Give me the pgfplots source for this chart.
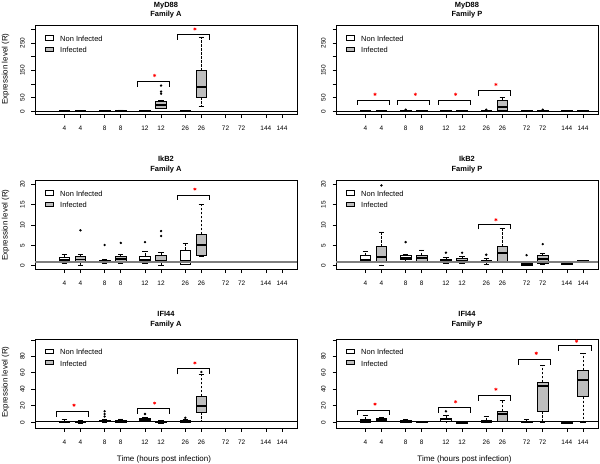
\documentclass[border=0pt]{standalone}
\usepackage{pgfplots}
\pgfplotsset{compat=1.18}
\usepgfplotslibrary{statistics}
\usepackage{fontspec}
\setmainfont{Liberation Sans}
\definecolor{rgray}{RGB}{190,190,190}
\definecolor{rline}{RGB}{127,127,127}
\pgfplotsset{
 panel/.style={scale only axis, width=262bp, height=89bp, anchor=north west,
   xmin=-0.82, xmax=15.43,
   xtick={1,2,3.5,4.5,6,7,8.5,9.5,11,12,13.5,14.5},
   xticklabels={4,4,8,8,12,12,26,26,72,72,144,144},
   xtick pos=bottom, ytick pos=left, tick align=outside,
   major tick length=3.5bp, tick style={black, line width=0.6bp},
   axis line style={line width=0.9bp},
   xticklabel style={font=\fontsize{6.5}{7}\selectfont, inner sep=0pt, anchor=north},
   yticklabel style={font=\fontsize{6.5}{7}\selectfont, inner sep=0pt, rotate=90, anchor=south},
   xticklabel shift=8bp, yticklabel shift=6.5bp,
   legend style={draw=none, fill=none, at={(rel axis cs:0,1)}, anchor=north west,
     xshift=10bp, yshift=-8bp, font=\fontsize{7.5}{8}\selectfont, row sep=0.5bp, inner sep=0pt},
   legend cell align=left,
   legend image code/.code={\draw[##1, line width=0.7bp] (0bp,-0.8bp) rectangle (8bp,3.8bp); \path (12.5bp,0bp);},
 },
 bxs/.style={forget plot, solid, draw=black, line width=0.7bp, mark=*, mark size=0.8bp,
   mark options={solid, fill=black, draw=black},
   boxplot/draw direction=y,
   boxplot/box extend=0.66, boxplot/whisker extend=0.33,
   boxplot/every whisker/.style={dash pattern=on 2.5bp off 1.5bp},
   boxplot/draw/whisker/.code 2 args={\draw[dash pattern=on 2.5bp off 1.5bp] (boxplot cs:##1) -- (boxplot cs:##2); \draw[solid] (boxplot whisker cs:##2,0) -- (boxplot whisker cs:##2,1);},
   boxplot/every median/.style={line width=1.8bp, solid}},
 nib/.style={bxs, fill=white},
 ib/.style={bxs, fill=rgray},
 brk/.style={forget plot, black, line width=0.7bp},
 star/.style={forget plot, only marks, mark=asterisk, mark size=1.6bp, red, mark options={line width=0.6bp}},
}
\newcommand{\bx}[8]{\addplot[#1, boxplot prepared={draw position=#2, lower whisker=#3, lower quartile=#4, median=#5, upper quartile=#6, upper whisker=#7}] coordinates {#8};}
\newcommand{\legs}{\addlegendimage{draw=black, fill=white}\addlegendentry{Non Infected}
\addlegendimage{draw=black, fill=rgray}\addlegendentry{Infected}}
\begin{document}
\begin{tikzpicture}
\path[use as bounding box] (0bp,0bp) rectangle (600bp,-464bp);
% titles
\tikzset{ttl/.style={font=\bfseries\fontsize{7.5}{9.5}\selectfont, align=center}}
\node[ttl] at (166bp,-10bp) {MyD88\\Family A};
\node[ttl] at (467bp,-10bp) {MyD88\\Family P};
\node[ttl] at (166bp,-164.5bp) {IkB2\\Family A};
\node[ttl] at (467bp,-164.5bp) {IkB2\\Family P};
\node[ttl] at (166bp,-319.5bp) {IFI44\\Family A};
\node[ttl] at (467bp,-319.5bp) {IFI44\\Family P};
\node[rotate=90, font=\fontsize{8}{9}\selectfont] at (5.5bp,-69bp) {Expression level (R)};
\node[rotate=90, font=\fontsize{8}{9}\selectfont] at (5.5bp,-225bp) {Expression level (R)};
\node[rotate=90, font=\fontsize{8}{9}\selectfont] at (5.5bp,-382bp) {Expression level (R)};
\node[font=\fontsize{8}{9}\selectfont] at (164bp,-459bp) {Time (hours post infection)};
\node[font=\fontsize{8}{9}\selectfont] at (464.5bp,-459bp) {Time (hours post infection)};

% ---------- MyD88 A
\begin{axis}[panel, at={(35bp,-25.7bp)}, ymin=-12.5, ymax=313, ytick={0,50,...,300}, yticklabels={0,50,,150,,250,}]
\legs
\bx{nib}{1}{0.2}{0.6}{1}{2}{4}{}
\bx{ib}{2}{0.2}{0.5}{1}{1.8}{3.5}{}
\bx{nib}{3.5}{0.2}{0.6}{1}{1.8}{3}{}
\bx{ib}{4.5}{0.3}{0.7}{1.2}{2.2}{5}{}
\bx{nib}{6}{0.2}{0.6}{1}{2}{4}{}
\bx{ib}{7}{9}{11}{22}{36}{41}{(0,64) (0,72) (0,94)}
\bx{nib}{8.5}{0.2}{0.6}{1}{2}{4}{}
\bx{ib}{9.5}{17}{51}{90}{149}{272}{}
\addplot[forget plot, black, line width=1bp] coordinates {(-0.82,1) (15.43,1)};
\addplot[brk] coordinates {(5.5,90) (5.5,111) (7.5,111) (7.5,90)};
\addplot[brk] coordinates {(8,262) (8,280) (10,280) (10,262)};
\addplot[star] coordinates {(6.6,131) (9.1,301)};
\end{axis}

% ---------- MyD88 P
\begin{axis}[panel, at={(336bp,-25.7bp)}, ymin=-12.5, ymax=313, ytick={0,50,...,300}, yticklabels={0,50,,150,,250,}]
\legs
\bx{nib}{1}{0.2}{0.6}{1}{2}{4}{}
\bx{ib}{2}{0.2}{0.5}{1}{1.8}{3.5}{}
\bx{nib}{3.5}{0.2}{0.6}{1}{2}{4}{(0,6)}
\bx{ib}{4.5}{0.3}{0.7}{1.2}{2.2}{4}{}
\bx{nib}{6}{0.2}{0.6}{1}{2}{4}{}
\bx{ib}{7}{0.2}{0.6}{1}{2}{4}{}
\bx{nib}{8.5}{0.2}{0.6}{1}{2}{4}{(0,6)}
\bx{ib}{9.5}{0}{2}{15}{41}{50}{}
\bx{nib}{11}{0.2}{0.6}{1}{2}{4}{}
\bx{ib}{12}{0.2}{0.6}{1}{2}{4}{(0,6)}
\bx{nib}{13.5}{0.2}{0.6}{1}{2}{4}{}
\bx{ib}{14.5}{0.2}{0.6}{1}{2}{4}{}
\addplot[forget plot, black, line width=1bp] coordinates {(-0.82,1) (15.43,1)};
\addplot[brk] coordinates {(0.5,23) (0.5,41) (2.5,41) (2.5,23)};
\addplot[brk] coordinates {(3,23) (3,41) (5,41) (5,23)};
\addplot[brk] coordinates {(5.5,23) (5.5,41) (7.5,41) (7.5,23)};
\addplot[brk] coordinates {(8,56) (8,78) (10,78) (10,56)};
\addplot[star] coordinates {(1.6,62) (4.1,62) (6.6,62) (9.1,98)};
\end{axis}

% ---------- IkB2 A
\begin{axis}[panel, at={(35bp,-180.7bp)}, ymin=-0.97, ymax=20.87, ytick={0,5,...,20}, yticklabels={0,5,10,15,20}]
\legs
\bx{nib}{1}{0.6}{0.9}{1.4}{2.0}{2.9}{}
\bx{ib}{2}{0.2}{0.75}{1.55}{2.2}{2.8}{(0,8.7)}
\bx{nib}{3.5}{0.6}{0.85}{1.1}{1.4}{1.6}{(0,5.1)}
\bx{ib}{4.5}{0.6}{1.15}{1.7}{2.3}{2.8}{(0,5.6)}
\bx{nib}{6}{0.55}{0.8}{1.4}{2.4}{3.5}{(0,5.8)}
\bx{ib}{7}{0.1}{0.8}{1.3}{2.6}{3.25}{(0,7.3) (0,8.5)}
\bx{nib}{8.5}{0.25}{0.4}{1.15}{3.9}{5.6}{}
\bx{ib}{9.5}{2.2}{2.45}{5.0}{7.7}{15.1}{}
\addplot[forget plot, rline, line width=1.8bp] coordinates {(-0.82,1) (15.43,1)};
\addplot[brk] coordinates {(8,16.2) (8,17.2) (10,17.2) (10,16.2)};
\addplot[star] coordinates {(9.1,18.8)};
\end{axis}

% ---------- IkB2 P
\begin{axis}[panel, at={(336bp,-180.7bp)}, ymin=-0.97, ymax=20.87, ytick={0,5,...,20}, yticklabels={0,5,10,15,20}]
\legs
\bx{nib}{1}{1.0}{1.15}{1.5}{2.6}{3.5}{}
\bx{ib}{2}{0.1}{1.2}{2.2}{4.7}{8.3}{(0,19.7)}
\bx{nib}{3.5}{0.9}{1.45}{2.0}{2.6}{2.9}{(0,5.8)}
\bx{ib}{4.5}{1.0}{1.2}{2.0}{2.6}{3.9}{}
\bx{nib}{6}{0.6}{0.8}{1.15}{1.45}{2.0}{(0,3.2)}
\bx{ib}{7}{0.6}{0.8}{1.3}{1.8}{2.3}{(0,3.2)}
\bx{nib}{8.5}{0.4}{0.9}{1.15}{1.4}{1.9}{(0,2.7)}
\bx{ib}{9.5}{1.0}{1.05}{3.1}{4.7}{9.1}{}
\bx{nib}{11}{0}{0.17}{0.4}{0.8}{1.0}{(0,2.6)}
\bx{ib}{12}{0.35}{0.65}{1.6}{2.6}{3.0}{(0,5.3)}
\bx{nib}{13.5}{0.3}{0.35}{0.65}{0.95}{1.0}{}
\bx{ib}{14.5}{0.8}{0.85}{1.05}{1.3}{1.4}{}
\addplot[forget plot, rline, line width=1.8bp] coordinates {(-0.82,1) (15.43,1)};
\addplot[brk] coordinates {(8,8.9) (8,10.1) (10,10.1) (10,8.9)};
\addplot[star] coordinates {(9.1,11.3)};
\end{axis}

% ---------- IFI44 A
\begin{axis}[panel, at={(35bp,-339bp)}, ymin=-7, ymax=101, ytick={0,20,...,100}, yticklabels={0,20,40,60,80,}]
\legs
\bx{nib}{1}{-0.5}{0}{0.6}{1.6}{3.3}{}
\bx{ib}{2}{-0.8}{-0.5}{0}{1.2}{2.5}{}
\bx{nib}{3.5}{0}{0.5}{1.2}{2.2}{4}{(0,7) (0,10) (0,13.3)}
\bx{ib}{4.5}{-0.5}{0}{0.8}{1.8}{4}{}
\bx{nib}{6}{0.5}{1}{2.5}{4.2}{6.2}{(0,10)}
\bx{ib}{7}{-0.8}{-0.3}{0.5}{1.2}{2.5}{}
\bx{nib}{8.5}{-0.5}{0}{0.8}{1.8}{4}{(0,5.4)}
\bx{ib}{9.5}{1}{12.4}{19.9}{31.5}{58}{(0,61)}
\addplot[forget plot, black, line width=1bp] coordinates {(-0.82,1) (15.43,1)};
\addplot[brk] coordinates {(0.5,6.2) (0.5,13.3) (2.5,13.3) (2.5,6.2)};
\addplot[brk] coordinates {(5.5,10) (5.5,16.6) (7.5,16.6) (7.5,10)};
\addplot[brk] coordinates {(8,58) (8,65) (10,65) (10,58)};
\addplot[star] coordinates {(1.6,20.7) (6.6,23.2) (9.1,72)};
\end{axis}

% ---------- IFI44 P
\begin{axis}[panel, at={(336bp,-339bp)}, ymin=-7, ymax=101, ytick={0,20,...,100}, yticklabels={0,20,40,60,80,}]
\legs
\bx{nib}{1}{-0.5}{0}{1.2}{3}{8.3}{}
\bx{ib}{2}{0.8}{1.5}{3}{5}{6.2}{}
\bx{nib}{3.5}{-0.5}{0}{1}{2.5}{4}{}
\bx{ib}{4.5}{-0.5}{-0.2}{0.5}{1.2}{1.5}{}
\bx{nib}{6}{0.5}{0.8}{3.3}{5}{8.3}{(0,13.3)}
\bx{ib}{7}{-1.6}{-1.2}{-0.3}{0.6}{0.8}{}
\bx{nib}{8.5}{-0.5}{0}{1.2}{2.5}{7}{}
\bx{ib}{9.5}{0.8}{0.9}{10.4}{13.3}{26}{}
\bx{nib}{11}{-0.5}{0}{0.5}{1.2}{4}{}
\bx{ib}{12}{0}{13.3}{43.5}{48.4}{69.2}{}
\bx{nib}{13.5}{-1.6}{-1.2}{-0.3}{0.6}{0.8}{}
\bx{ib}{14.5}{0}{31}{51}{63}{83.7}{}
\addplot[forget plot, black, line width=1bp] coordinates {(-0.82,1) (15.43,1)};
\addplot[brk] coordinates {(0.5,8.3) (0.5,14.5) (2.5,14.5) (2.5,8.3)};
\addplot[brk] coordinates {(5.5,11.6) (5.5,18.3) (7.5,18.3) (7.5,11.6)};
\addplot[brk] coordinates {(8,26) (8,33.2) (10,33.2) (10,26)};
\addplot[brk] coordinates {(10.5,69.6) (10.5,76.6) (12.5,76.6) (12.5,69.6)};
\addplot[brk] coordinates {(13,87) (13,93.2) (15,93.2) (15,87)};
\addplot[star] coordinates {(1.6,22) (6.6,24.9) (9.1,40) (11.6,83.7) (14.1,98.3)};
\end{axis}
\end{tikzpicture}
\end{document}
